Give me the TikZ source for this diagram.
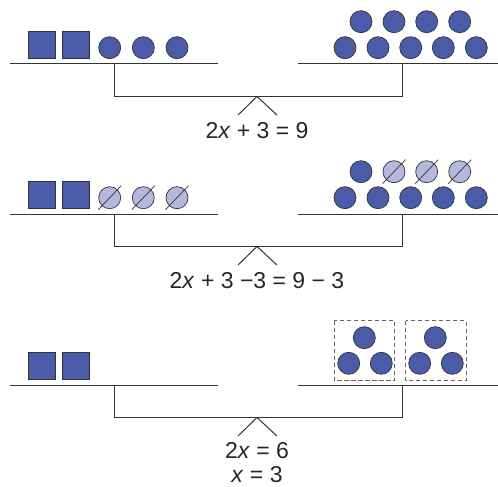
\documentclass[tikz,border=0pt]{standalone}
\usepackage{fontspec}
\setmainfont{Liberation Sans}
\definecolor{ballblue}{HTML}{4A5CA8}
\definecolor{paleblue}{HTML}{B4B8DC}
\definecolor{ink}{HTML}{333333}
\begin{document}
\begin{tikzpicture}[x=1pt,y=-1pt,
  ball/.style={circle, draw=ink, fill=ballblue, line width=0.7pt, minimum size=22pt, inner sep=0pt},
  paleball/.style={ball, fill=paleblue},
  slash/.style={draw=ink, line width=0.7pt},
  block/.style={rectangle, draw=ink, fill=ballblue, line width=0.7pt, minimum size=27pt, inner sep=0pt},
  beam/.style={draw=ink, line width=1pt},
  dbox/.style={draw=ink!75, line width=0.8pt, dash pattern=on 4.5pt off 2.5pt},
  eq/.style={font=\fontsize{23}{26}\selectfont, text=black!85, inner sep=0pt}
]
\useasboundingbox (0,0) rectangle (498,487);

% common scale frame
\newcommand{\balanceframe}{%
  \coordinate (bl1) at (10,64);
  \coordinate (bl2) at (218,64);
  \coordinate (br1) at (298,64);
  \coordinate (br2) at (498,64);
  \coordinate (pl) at (114,64);
  \coordinate (pr) at (402,64);
  \coordinate (ql) at (114,96.5);
  \coordinate (qr) at (402,96.5);
  \coordinate (apex) at (257,96.5);
  \coordinate (fl) at (238,115);
  \coordinate (fr) at (277,115);
  \draw[beam] (bl1) -- (bl2);
  \draw[beam] (br1) -- (br2);
  \draw[beam] (pl) -- (ql) -- (qr) -- (pr);
  \draw[beam] (fl) -- (apex) -- (fr);
  \node[block] (s1) at (42.3,44.7) {};
  \node[block] (s2) at (75.8,44.7) {};
}

% ---------- Panel 1 ----------
\begin{scope}
  \balanceframe
  \node[ball] (a1) at (109.7,47.7) {};
  \node[ball] (a2) at (143.3,47.7) {};
  \node[ball] (a3) at (177,47.7) {};
  \foreach \x [count=\i] in {361,394,426.7,459.7}
    \node[ball] (t\i) at (\x,21.7) {};
  \foreach \x [count=\i] in {345,378,410.7,443.3,476.3}
    \node[ball] (b\i) at (\x,47.7) {};
  \node[eq] (e1) at (257,130.5) {2\textit{x} + 3 = 9};
\end{scope}

% ---------- Panel 2 ----------
\begin{scope}[yshift=-150pt]
  \balanceframe
  \foreach \x [count=\i] in {109.7,143.3,177}{
    \node[paleball] (c\i) at (\x,47.7) {};
    \draw[slash] ([shift={(-11.5,12)}]c\i.center) -- ([shift={(11.5,-12)}]c\i.center);
  }
  \node[ball] (t1) at (361,21.7) {};
  \foreach \x [count=\i from 2] in {394,426.7,459.7}{
    \node[paleball] (t\i) at (\x,21.7) {};
    \draw[slash] ([shift={(-11.5,12)}]t\i.center) -- ([shift={(11.5,-12)}]t\i.center);
  }
  \foreach \x [count=\i] in {345,378,410.7,443.3,476.3}
    \node[ball] (b\i) at (\x,47.7) {};
  \node[eq] (e2) at (257,130.5) {2\textit{x} + 3 −3 = 9 − 3};
\end{scope}

% ---------- Panel 3 ----------
\begin{scope}[yshift=-321pt]
  \balanceframe
  \draw[dbox] (334.3,-0.3) rectangle (394.7,59.7);
  \draw[dbox] (405.7,-0.3) rectangle (466,59.7);
  \node[ball] (g1) at (364.3,16.7) {};
  \node[ball] (g2) at (348.7,42.3) {};
  \node[ball] (g3) at (381.3,42.3) {};
  \node[ball] (h1) at (435.3,16.7) {};
  \node[ball] (h2) at (419.7,42.3) {};
  \node[ball] (h3) at (452.3,42.3) {};
  \node[eq] (e3) at (257,130) {2\textit{x} = 6};
  \node[eq, anchor=base] (e4) at (257,161.5) {\textit{x} = 3};
\end{scope}
\end{tikzpicture}
\end{document}
